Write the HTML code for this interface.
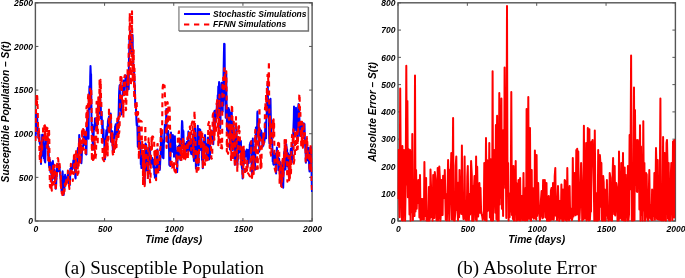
<!DOCTYPE html>
<html><head><meta charset="utf-8"><style>
html,body{margin:0;padding:0;background:#fff;width:685px;height:278px;overflow:hidden}
svg{display:block}
svg{will-change:transform;filter:blur(0.3px)}
.tk{font-family:"Liberation Sans", sans-serif;font-size:9.6px;font-weight:bold;font-style:italic;fill:#000}
.lb{font-family:"Liberation Sans", sans-serif;font-size:10.0px;font-weight:bold;font-style:italic;fill:#000}
.lg{font-family:"Liberation Sans", sans-serif;font-size:8.5px;font-weight:bold;font-style:italic;fill:#000}
.cap{font-family:"Liberation Serif", serif;font-size:18.7px;fill:#000}
</style></head><body>
<svg width="685" height="278" viewBox="0 0 685 278">
<defs><clipPath id="cl"><rect x="34.8" y="2.5" width="277.6" height="219"/></clipPath><clipPath id="cr"><rect x="397.5" y="2.5" width="278.2" height="219"/></clipPath></defs>
<rect x="35.4" y="2.8" width="276.70000000000005" height="218.2" fill="none" stroke="#555" stroke-width="1.4"/>
<line x1="35.40" y1="221.0" x2="35.40" y2="218.0" stroke="#555" stroke-width="1"/>
<line x1="35.40" y1="2.8" x2="35.40" y2="5.8" stroke="#555" stroke-width="1"/>
<text transform="translate(35.90,232) scale(0.89,1)" text-anchor="middle" class="tk">0</text>
<line x1="104.58" y1="221.0" x2="104.58" y2="218.0" stroke="#555" stroke-width="1"/>
<line x1="104.58" y1="2.8" x2="104.58" y2="5.8" stroke="#555" stroke-width="1"/>
<text transform="translate(105.08,232) scale(0.89,1)" text-anchor="middle" class="tk">500</text>
<line x1="173.75" y1="221.0" x2="173.75" y2="218.0" stroke="#555" stroke-width="1"/>
<line x1="173.75" y1="2.8" x2="173.75" y2="5.8" stroke="#555" stroke-width="1"/>
<text transform="translate(174.25,232) scale(0.89,1)" text-anchor="middle" class="tk">1000</text>
<line x1="242.93" y1="221.0" x2="242.93" y2="218.0" stroke="#555" stroke-width="1"/>
<line x1="242.93" y1="2.8" x2="242.93" y2="5.8" stroke="#555" stroke-width="1"/>
<text transform="translate(243.43,232) scale(0.89,1)" text-anchor="middle" class="tk">1500</text>
<line x1="312.10" y1="221.0" x2="312.10" y2="218.0" stroke="#555" stroke-width="1"/>
<line x1="312.10" y1="2.8" x2="312.10" y2="5.8" stroke="#555" stroke-width="1"/>
<text transform="translate(312.60,232) scale(0.89,1)" text-anchor="middle" class="tk">2000</text>
<line x1="35.4" y1="221.00" x2="38.4" y2="221.00" stroke="#555" stroke-width="1"/>
<line x1="312.1" y1="221.00" x2="309.1" y2="221.00" stroke="#555" stroke-width="1"/>
<text transform="translate(33.00,224.20) scale(0.89,1)" text-anchor="end" class="tk">0</text>
<line x1="35.4" y1="177.36" x2="38.4" y2="177.36" stroke="#555" stroke-width="1"/>
<line x1="312.1" y1="177.36" x2="309.1" y2="177.36" stroke="#555" stroke-width="1"/>
<text transform="translate(33.00,180.56) scale(0.89,1)" text-anchor="end" class="tk">500</text>
<line x1="35.4" y1="133.72" x2="38.4" y2="133.72" stroke="#555" stroke-width="1"/>
<line x1="312.1" y1="133.72" x2="309.1" y2="133.72" stroke="#555" stroke-width="1"/>
<text transform="translate(33.00,136.92) scale(0.89,1)" text-anchor="end" class="tk">1000</text>
<line x1="35.4" y1="90.08" x2="38.4" y2="90.08" stroke="#555" stroke-width="1"/>
<line x1="312.1" y1="90.08" x2="309.1" y2="90.08" stroke="#555" stroke-width="1"/>
<text transform="translate(33.00,93.28) scale(0.89,1)" text-anchor="end" class="tk">1500</text>
<line x1="35.4" y1="46.44" x2="38.4" y2="46.44" stroke="#555" stroke-width="1"/>
<line x1="312.1" y1="46.44" x2="309.1" y2="46.44" stroke="#555" stroke-width="1"/>
<text transform="translate(33.00,49.64) scale(0.89,1)" text-anchor="end" class="tk">2000</text>
<line x1="35.4" y1="2.80" x2="38.4" y2="2.80" stroke="#555" stroke-width="1"/>
<line x1="312.1" y1="2.80" x2="309.1" y2="2.80" stroke="#555" stroke-width="1"/>
<text transform="translate(33.00,6.00) scale(0.89,1)" text-anchor="end" class="tk">2500</text>
<text transform="translate(173.75,242.8) scale(1.03,1.15)" text-anchor="middle" class="lb">Time (days)</text>
<text transform="translate(9,111.90) rotate(-90) scale(1.02,1)" text-anchor="middle" class="lb">Susceptible Population – S(t)</text>
<rect x="398.0" y="2.8" width="277.4" height="218.2" fill="none" stroke="#555" stroke-width="1.4"/>
<line x1="398.00" y1="221.0" x2="398.00" y2="218.0" stroke="#555" stroke-width="1"/>
<line x1="398.00" y1="2.8" x2="398.00" y2="5.8" stroke="#555" stroke-width="1"/>
<text transform="translate(398.50,232) scale(0.89,1)" text-anchor="middle" class="tk">0</text>
<line x1="467.35" y1="221.0" x2="467.35" y2="218.0" stroke="#555" stroke-width="1"/>
<line x1="467.35" y1="2.8" x2="467.35" y2="5.8" stroke="#555" stroke-width="1"/>
<text transform="translate(467.85,232) scale(0.89,1)" text-anchor="middle" class="tk">500</text>
<line x1="536.70" y1="221.0" x2="536.70" y2="218.0" stroke="#555" stroke-width="1"/>
<line x1="536.70" y1="2.8" x2="536.70" y2="5.8" stroke="#555" stroke-width="1"/>
<text transform="translate(537.20,232) scale(0.89,1)" text-anchor="middle" class="tk">1000</text>
<line x1="606.05" y1="221.0" x2="606.05" y2="218.0" stroke="#555" stroke-width="1"/>
<line x1="606.05" y1="2.8" x2="606.05" y2="5.8" stroke="#555" stroke-width="1"/>
<text transform="translate(606.55,232) scale(0.89,1)" text-anchor="middle" class="tk">1500</text>
<line x1="675.40" y1="221.0" x2="675.40" y2="218.0" stroke="#555" stroke-width="1"/>
<line x1="675.40" y1="2.8" x2="675.40" y2="5.8" stroke="#555" stroke-width="1"/>
<text transform="translate(675.90,232) scale(0.89,1)" text-anchor="middle" class="tk">2000</text>
<line x1="398.0" y1="221.00" x2="401.0" y2="221.00" stroke="#555" stroke-width="1"/>
<line x1="675.4" y1="221.00" x2="672.4" y2="221.00" stroke="#555" stroke-width="1"/>
<text transform="translate(395.60,224.20) scale(0.89,1)" text-anchor="end" class="tk">0</text>
<line x1="398.0" y1="193.72" x2="401.0" y2="193.72" stroke="#555" stroke-width="1"/>
<line x1="675.4" y1="193.72" x2="672.4" y2="193.72" stroke="#555" stroke-width="1"/>
<text transform="translate(395.60,196.92) scale(0.89,1)" text-anchor="end" class="tk">100</text>
<line x1="398.0" y1="166.45" x2="401.0" y2="166.45" stroke="#555" stroke-width="1"/>
<line x1="675.4" y1="166.45" x2="672.4" y2="166.45" stroke="#555" stroke-width="1"/>
<text transform="translate(395.60,169.65) scale(0.89,1)" text-anchor="end" class="tk">200</text>
<line x1="398.0" y1="139.18" x2="401.0" y2="139.18" stroke="#555" stroke-width="1"/>
<line x1="675.4" y1="139.18" x2="672.4" y2="139.18" stroke="#555" stroke-width="1"/>
<text transform="translate(395.60,142.38) scale(0.89,1)" text-anchor="end" class="tk">300</text>
<line x1="398.0" y1="111.90" x2="401.0" y2="111.90" stroke="#555" stroke-width="1"/>
<line x1="675.4" y1="111.90" x2="672.4" y2="111.90" stroke="#555" stroke-width="1"/>
<text transform="translate(395.60,115.10) scale(0.89,1)" text-anchor="end" class="tk">400</text>
<line x1="398.0" y1="84.62" x2="401.0" y2="84.62" stroke="#555" stroke-width="1"/>
<line x1="675.4" y1="84.62" x2="672.4" y2="84.62" stroke="#555" stroke-width="1"/>
<text transform="translate(395.60,87.83) scale(0.89,1)" text-anchor="end" class="tk">500</text>
<line x1="398.0" y1="57.35" x2="401.0" y2="57.35" stroke="#555" stroke-width="1"/>
<line x1="675.4" y1="57.35" x2="672.4" y2="57.35" stroke="#555" stroke-width="1"/>
<text transform="translate(395.60,60.55) scale(0.89,1)" text-anchor="end" class="tk">600</text>
<line x1="398.0" y1="30.08" x2="401.0" y2="30.08" stroke="#555" stroke-width="1"/>
<line x1="675.4" y1="30.08" x2="672.4" y2="30.08" stroke="#555" stroke-width="1"/>
<text transform="translate(395.60,33.28) scale(0.89,1)" text-anchor="end" class="tk">700</text>
<line x1="398.0" y1="2.80" x2="401.0" y2="2.80" stroke="#555" stroke-width="1"/>
<line x1="675.4" y1="2.80" x2="672.4" y2="2.80" stroke="#555" stroke-width="1"/>
<text transform="translate(395.60,6.00) scale(0.89,1)" text-anchor="end" class="tk">800</text>
<text transform="translate(536.70,242.8) scale(1.03,1.15)" text-anchor="middle" class="lb">Time (days)</text>
<text transform="translate(375.5,111.90) rotate(-90) scale(1.02,1)" text-anchor="middle" class="lb">Absolute Error – S(t)</text>
<g clip-path="url(#cl)" fill="none" stroke-linejoin="round">
<path d="M35.5 137.6 L35.8 132.7 L36.1 128.3 L36.3 113.1 L36.6 122.0 L36.9 124.5 L37.2 118.4 L37.4 123.1 L37.7 127.2 L38.0 131.0 L38.3 132.6 L38.5 138.5 L38.8 133.8 L39.1 135.4 L39.4 134.5 L39.6 142.0 L39.9 143.9 L40.2 142.6 L40.5 144.4 L40.8 155.0 L41.0 164.0 L41.3 154.0 L41.6 153.0 L41.9 156.1 L42.1 134.8 L42.4 134.8 L42.7 134.8 L43.0 134.9 L43.2 136.4 L43.5 140.8 L43.8 158.3 L44.1 146.4 L44.3 143.6 L44.6 160.3 L44.9 161.5 L45.2 162.5 L45.5 154.3 L45.7 139.4 L46.0 144.3 L46.3 147.6 L46.6 139.1 L46.8 139.9 L47.1 141.6 L47.4 136.8 L47.7 141.1 L47.9 146.1 L48.2 149.3 L48.5 146.4 L48.8 155.2 L49.0 165.0 L49.3 167.4 L49.6 159.3 L49.9 168.0 L50.2 163.8 L50.4 171.9 L50.7 162.2 L51.0 171.5 L51.3 173.3 L51.5 174.4 L51.8 182.6 L52.1 175.9 L52.4 172.4 L52.6 164.6 L52.9 161.1 L53.2 167.3 L53.5 168.0 L53.7 172.7 L54.0 178.5 L54.3 169.5 L54.6 172.8 L54.9 180.1 L55.1 177.9 L55.4 180.6 L55.7 188.7 L56.0 187.5 L56.2 184.0 L56.5 176.4 L56.8 167.4 L57.1 168.0 L57.3 166.5 L57.6 171.0 L57.9 171.4 L58.2 164.2 L58.4 164.2 L58.7 167.1 L59.0 170.6 L59.3 167.6 L59.6 168.1 L59.8 170.6 L60.1 173.6 L60.4 178.1 L60.7 179.0 L60.9 178.4 L61.2 181.5 L61.5 190.0 L61.8 191.7 L62.0 184.5 L62.3 178.9 L62.6 171.3 L62.9 176.2 L63.2 179.2 L63.4 189.6 L63.7 194.9 L64.0 190.3 L64.3 189.6 L64.5 187.6 L64.8 181.6 L65.1 174.8 L65.4 183.4 L65.6 181.7 L65.9 178.2 L66.2 178.8 L66.5 177.6 L66.7 180.8 L67.0 179.9 L67.3 179.2 L67.6 175.6 L67.9 177.8 L68.1 172.9 L68.4 176.7 L68.7 183.3 L69.0 175.1 L69.2 174.1 L69.5 184.3 L69.8 185.2 L70.1 178.6 L70.3 168.7 L70.6 172.5 L70.9 168.5 L71.2 167.1 L71.4 166.7 L71.7 170.0 L72.0 168.1 L72.3 169.3 L72.6 168.0 L72.8 164.3 L73.1 163.7 L73.4 160.2 L73.7 162.0 L73.9 160.4 L74.2 159.8 L74.5 165.1 L74.8 164.8 L75.0 170.1 L75.3 177.4 L75.6 178.5 L75.9 170.8 L76.1 166.3 L76.4 166.0 L76.7 159.3 L77.0 164.3 L77.3 159.7 L77.5 153.3 L77.8 148.8 L78.1 147.8 L78.4 158.7 L78.6 149.1 L78.9 150.2 L79.2 134.9 L79.5 138.0 L79.7 147.4 L80.0 145.9 L80.3 142.1 L80.6 145.1 L80.8 150.1 L81.1 153.1 L81.4 163.2 L81.7 158.8 L82.0 150.6 L82.2 147.8 L82.5 146.2 L82.8 146.3 L83.1 145.5 L83.3 146.1 L83.6 136.7 L83.9 143.3 L84.2 139.5 L84.4 132.1 L84.7 136.9 L85.0 144.8 L85.3 145.0 L85.5 142.5 L85.8 131.7 L86.1 154.4 L86.4 154.5 L86.7 137.3 L86.9 127.7 L87.2 128.4 L87.5 112.8 L87.8 118.0 L88.0 115.1 L88.3 130.3 L88.6 138.8 L88.9 100.2 L89.1 105.3 L89.4 86.3 L89.7 108.9 L90.0 95.6 L90.2 76.9 L90.5 66.1 L90.8 73.5 L91.1 74.4 L91.4 102.3 L91.6 130.1 L91.9 125.6 L92.2 129.2 L92.5 124.7 L92.7 146.9 L93.0 149.7 L93.3 141.1 L93.6 138.3 L93.8 129.3 L94.1 129.3 L94.4 126.5 L94.7 127.7 L94.9 118.5 L95.2 118.2 L95.5 119.8 L95.8 119.5 L96.1 122.8 L96.3 121.4 L96.6 130.5 L96.9 126.1 L97.2 124.6 L97.4 117.8 L97.7 114.1 L98.0 103.1 L98.3 114.6 L98.5 108.2 L98.8 105.5 L99.1 106.9 L99.4 113.6 L99.6 107.4 L99.9 96.8 L100.2 98.6 L100.5 109.1 L100.8 104.0 L101.0 118.7 L101.3 117.4 L101.6 111.7 L101.9 120.2 L102.1 124.0 L102.4 130.3 L102.7 120.6 L103.0 141.2 L103.2 137.4 L103.5 129.3 L103.8 138.9 L104.1 139.1 L104.3 143.5 L104.6 150.2 L104.9 159.3 L105.2 157.0 L105.5 144.7 L105.7 141.4 L106.0 136.7 L106.3 130.2 L106.6 132.3 L106.8 136.3 L107.1 133.7 L107.4 126.5 L107.7 132.6 L107.9 121.3 L108.2 120.0 L108.5 118.7 L108.8 117.5 L109.0 116.6 L109.3 119.0 L109.6 130.3 L109.9 123.9 L110.2 122.2 L110.4 128.5 L110.7 113.5 L111.0 141.7 L111.3 135.5 L111.5 131.5 L111.8 139.0 L112.1 138.9 L112.4 131.3 L112.6 144.0 L112.9 151.0 L113.2 148.3 L113.5 142.0 L113.7 140.0 L114.0 134.3 L114.3 137.2 L114.6 137.9 L114.9 133.4 L115.1 126.2 L115.4 127.3 L115.7 124.2 L116.0 131.9 L116.2 131.4 L116.5 134.4 L116.8 132.1 L117.1 130.7 L117.3 122.3 L117.6 125.4 L117.9 135.0 L118.2 126.1 L118.5 115.8 L118.7 110.5 L119.0 96.0 L119.3 89.1 L119.6 85.5 L119.8 85.1 L120.1 103.5 L120.4 104.6 L120.7 105.1 L120.9 110.9 L121.2 104.5 L121.5 114.5 L121.8 105.0 L122.0 97.1 L122.3 94.9 L122.6 95.2 L122.9 86.0 L123.2 89.5 L123.4 80.5 L123.7 95.2 L124.0 95.2 L124.3 90.6 L124.5 85.1 L124.8 84.5 L125.1 84.8 L125.4 78.9 L125.6 75.3 L125.9 77.6 L126.2 76.4 L126.5 85.6 L126.7 92.9 L127.0 89.3 L127.3 89.8 L127.6 75.4 L127.9 80.4 L128.1 76.9 L128.4 77.3 L128.7 89.3 L129.0 52.9 L129.2 54.7 L129.5 36.2 L129.8 46.9 L130.1 31.3 L130.3 31.0 L130.6 37.6 L130.9 49.4 L131.2 50.4 L131.4 39.4 L131.7 35.0 L132.0 52.0 L132.3 53.0 L132.6 35.0 L132.8 51.3 L133.1 59.2 L133.4 70.8 L133.7 67.2 L133.9 79.1 L134.2 72.4 L134.5 83.6 L134.8 85.1 L135.0 95.6 L135.3 105.4 L135.6 104.6 L135.9 107.5 L136.1 111.1 L136.4 120.2 L136.7 125.3 L137.0 120.0 L137.3 125.7 L137.5 132.3 L137.8 146.8 L138.1 133.5 L138.4 131.5 L138.6 145.0 L138.9 133.3 L139.2 126.6 L139.5 136.1 L139.7 147.6 L140.0 142.1 L140.3 148.5 L140.6 149.7 L140.8 164.2 L141.1 160.6 L141.4 168.1 L141.7 154.2 L142.0 151.9 L142.2 151.3 L142.5 164.5 L142.8 168.2 L143.1 156.1 L143.3 164.0 L143.6 171.0 L143.9 165.8 L144.2 171.9 L144.4 184.3 L144.7 183.8 L145.0 165.4 L145.3 152.8 L145.5 143.5 L145.8 157.6 L146.1 144.5 L146.4 146.3 L146.7 148.1 L146.9 170.4 L147.2 153.8 L147.5 160.9 L147.8 168.9 L148.0 169.4 L148.3 176.7 L148.6 163.1 L148.9 148.4 L149.1 154.3 L149.4 148.2 L149.7 148.1 L150.0 148.0 L150.2 155.2 L150.5 163.3 L150.8 156.1 L151.1 164.0 L151.4 163.2 L151.6 160.6 L151.9 160.2 L152.2 158.0 L152.5 162.9 L152.7 164.0 L153.0 159.6 L153.3 167.4 L153.6 160.6 L153.8 162.8 L154.1 165.4 L154.4 174.8 L154.7 167.4 L154.9 177.7 L155.2 174.2 L155.5 172.0 L155.8 173.6 L156.1 177.6 L156.3 171.8 L156.6 159.3 L156.9 150.8 L157.2 150.4 L157.4 149.4 L157.7 158.7 L158.0 166.3 L158.3 168.4 L158.5 167.0 L158.8 161.9 L159.1 160.7 L159.4 163.6 L159.6 170.1 L159.9 169.2 L160.2 162.6 L160.5 156.7 L160.8 147.7 L161.0 137.2 L161.3 132.1 L161.6 130.7 L161.9 145.9 L162.1 139.8 L162.4 150.2 L162.7 157.4 L163.0 152.6 L163.2 158.0 L163.5 158.3 L163.8 144.2 L164.1 141.3 L164.3 136.1 L164.6 129.2 L164.9 124.8 L165.2 126.4 L165.5 132.4 L165.7 120.4 L166.0 123.7 L166.3 108.9 L166.6 120.0 L166.8 130.8 L167.1 133.3 L167.4 136.5 L167.7 142.1 L167.9 132.7 L168.2 130.9 L168.5 137.7 L168.8 147.8 L169.0 148.5 L169.3 165.1 L169.6 160.3 L169.9 163.8 L170.2 166.1 L170.4 158.6 L170.7 144.8 L171.0 132.5 L171.3 137.5 L171.5 149.8 L171.8 150.8 L172.1 150.9 L172.4 146.7 L172.6 151.8 L172.9 135.0 L173.2 141.4 L173.5 144.4 L173.8 136.6 L174.0 156.7 L174.3 145.6 L174.6 140.4 L174.9 136.3 L175.1 149.3 L175.4 145.2 L175.7 152.8 L176.0 157.6 L176.2 159.0 L176.5 150.8 L176.8 159.4 L177.1 172.1 L177.3 169.2 L177.6 156.8 L177.9 146.8 L178.2 152.4 L178.5 152.6 L178.7 155.3 L179.0 145.8 L179.3 150.9 L179.6 151.7 L179.8 139.1 L180.1 148.8 L180.4 160.0 L180.7 150.5 L180.9 148.1 L181.2 155.2 L181.5 140.9 L181.8 126.7 L182.0 121.0 L182.3 121.9 L182.6 128.9 L182.9 131.2 L183.2 135.0 L183.4 131.1 L183.7 142.9 L184.0 149.8 L184.3 155.5 L184.5 157.9 L184.8 152.1 L185.1 155.4 L185.4 143.7 L185.6 147.9 L185.9 145.2 L186.2 151.4 L186.5 151.3 L186.7 142.1 L187.0 143.3 L187.3 150.4 L187.6 142.4 L187.9 140.4 L188.1 137.7 L188.4 131.5 L188.7 140.0 L189.0 147.9 L189.2 150.8 L189.5 149.7 L189.8 147.2 L190.1 147.1 L190.3 141.2 L190.6 146.6 L190.9 151.3 L191.2 154.0 L191.4 146.8 L191.7 145.5 L192.0 142.9 L192.3 154.4 L192.6 152.0 L192.8 134.4 L193.1 139.0 L193.4 155.4 L193.7 157.4 L193.9 160.9 L194.2 155.5 L194.5 130.4 L194.8 125.8 L195.0 127.1 L195.3 129.4 L195.6 148.9 L195.9 168.4 L196.1 167.7 L196.4 161.6 L196.7 149.0 L197.0 142.5 L197.3 152.7 L197.5 143.8 L197.8 125.7 L198.1 145.5 L198.4 165.5 L198.6 164.9 L198.9 147.1 L199.2 129.7 L199.5 129.1 L199.7 129.3 L200.0 129.4 L200.3 129.9 L200.6 145.7 L200.8 149.9 L201.1 138.5 L201.4 136.0 L201.7 145.3 L202.0 160.0 L202.2 159.5 L202.5 158.6 L202.8 168.2 L203.1 161.9 L203.3 155.5 L203.6 143.3 L203.9 140.8 L204.2 157.2 L204.4 144.0 L204.7 144.4 L205.0 134.9 L205.3 138.5 L205.5 146.1 L205.8 143.6 L206.1 148.3 L206.4 151.4 L206.7 151.6 L206.9 160.2 L207.2 159.7 L207.5 152.0 L207.8 144.1 L208.0 137.5 L208.3 141.7 L208.6 139.2 L208.9 157.9 L209.1 159.5 L209.4 156.1 L209.7 148.9 L210.0 157.8 L210.2 138.9 L210.5 135.4 L210.8 143.0 L211.1 134.8 L211.4 132.0 L211.6 130.8 L211.9 137.3 L212.2 137.5 L212.5 139.2 L212.7 141.6 L213.0 138.9 L213.3 144.3 L213.6 135.0 L213.8 123.5 L214.1 113.2 L214.4 111.2 L214.7 110.7 L214.9 122.3 L215.2 124.9 L215.5 121.0 L215.8 114.5 L216.1 113.5 L216.3 113.5 L216.6 112.0 L216.9 103.8 L217.2 104.0 L217.4 115.9 L217.7 95.2 L218.0 97.3 L218.3 86.6 L218.5 89.7 L218.8 88.0 L219.1 82.0 L219.4 84.1 L219.6 113.7 L219.9 114.4 L220.2 128.0 L220.5 122.3 L220.8 91.1 L221.0 103.1 L221.3 99.5 L221.6 82.7 L221.9 100.8 L222.1 105.7 L222.4 96.9 L222.7 111.4 L223.0 93.9 L223.2 105.6 L223.5 74.2 L223.8 59.8 L224.1 43.8 L224.3 53.3 L224.6 43.9 L224.9 84.3 L225.2 99.9 L225.5 101.4 L225.7 117.8 L226.0 75.4 L226.3 74.1 L226.6 102.9 L226.8 115.0 L227.1 130.2 L227.4 126.8 L227.7 134.3 L227.9 129.4 L228.2 119.3 L228.5 107.9 L228.8 108.9 L229.0 109.4 L229.3 110.6 L229.6 126.4 L229.9 149.4 L230.2 146.4 L230.4 131.0 L230.7 112.5 L231.0 112.5 L231.3 112.5 L231.5 118.1 L231.8 112.5 L232.1 133.7 L232.4 149.9 L232.6 146.7 L232.9 135.4 L233.2 135.8 L233.5 123.1 L233.8 130.2 L234.0 132.9 L234.3 140.6 L234.6 150.4 L234.9 164.8 L235.1 153.9 L235.4 161.1 L235.7 147.2 L236.0 136.2 L236.2 131.4 L236.5 126.5 L236.8 146.2 L237.1 158.4 L237.3 164.9 L237.6 161.0 L237.9 159.2 L238.2 149.8 L238.5 138.9 L238.7 147.6 L239.0 151.9 L239.3 143.5 L239.6 152.4 L239.8 140.8 L240.1 145.0 L240.4 144.2 L240.7 144.5 L240.9 141.0 L241.2 153.1 L241.5 158.9 L241.8 167.2 L242.0 168.4 L242.3 169.2 L242.6 178.5 L242.9 166.5 L243.2 159.9 L243.4 164.0 L243.7 164.6 L244.0 159.8 L244.3 157.5 L244.5 159.0 L244.8 151.2 L245.1 154.2 L245.4 156.4 L245.6 154.0 L245.9 153.0 L246.2 155.1 L246.5 151.8 L246.7 149.6 L247.0 155.8 L247.3 157.6 L247.6 166.3 L247.9 159.2 L248.1 150.0 L248.4 157.6 L248.7 163.2 L249.0 158.2 L249.2 150.4 L249.5 152.6 L249.8 144.2 L250.1 146.4 L250.3 142.5 L250.6 142.1 L250.9 141.7 L251.2 141.2 L251.4 159.2 L251.7 167.6 L252.0 176.8 L252.3 167.7 L252.6 153.9 L252.8 138.5 L253.1 150.3 L253.4 150.1 L253.7 162.7 L253.9 149.4 L254.2 147.2 L254.5 147.7 L254.8 158.7 L255.0 169.7 L255.3 156.6 L255.6 142.8 L255.9 127.4 L256.1 142.9 L256.4 141.2 L256.7 134.5 L257.0 134.9 L257.3 113.2 L257.5 111.5 L257.8 124.6 L258.1 128.0 L258.4 131.2 L258.6 121.0 L258.9 130.3 L259.2 151.7 L259.5 131.1 L259.7 133.0 L260.0 129.6 L260.3 136.4 L260.6 137.7 L260.8 137.3 L261.1 130.5 L261.4 134.6 L261.7 132.5 L262.0 135.7 L262.2 138.9 L262.5 146.8 L262.8 140.4 L263.1 137.3 L263.3 145.8 L263.6 141.1 L263.9 136.8 L264.2 142.9 L264.4 141.8 L264.7 139.0 L265.0 137.7 L265.3 122.5 L265.5 126.6 L265.8 138.0 L266.1 138.3 L266.4 114.2 L266.7 116.5 L266.9 102.3 L267.2 98.0 L267.5 98.6 L267.8 82.9 L268.0 102.5 L268.3 99.5 L268.6 110.3 L268.9 117.1 L269.1 133.8 L269.4 143.4 L269.7 114.7 L270.0 116.8 L270.2 100.3 L270.5 98.7 L270.8 115.6 L271.1 129.7 L271.4 143.7 L271.6 136.7 L271.9 139.6 L272.2 139.7 L272.5 150.8 L272.7 161.4 L273.0 151.8 L273.3 163.9 L273.6 164.7 L273.8 158.7 L274.1 159.7 L274.4 161.9 L274.7 162.2 L274.9 153.8 L275.2 164.0 L275.5 161.1 L275.8 170.1 L276.1 173.4 L276.3 160.9 L276.6 153.1 L276.9 147.5 L277.2 152.6 L277.4 155.1 L277.7 158.5 L278.0 153.5 L278.3 159.1 L278.5 170.3 L278.8 158.7 L279.1 158.9 L279.4 162.3 L279.6 162.2 L279.9 161.8 L280.2 175.2 L280.5 181.4 L280.8 182.8 L281.0 171.7 L281.3 186.2 L281.6 183.1 L281.9 173.0 L282.1 167.6 L282.4 162.4 L282.7 181.8 L283.0 183.4 L283.2 187.8 L283.5 177.1 L283.8 169.4 L284.1 153.1 L284.4 151.6 L284.6 156.3 L284.9 150.9 L285.2 160.7 L285.5 169.4 L285.7 152.9 L286.0 154.1 L286.3 144.2 L286.6 148.5 L286.8 158.8 L287.1 149.2 L287.4 166.1 L287.7 162.2 L287.9 152.9 L288.2 154.4 L288.5 167.5 L288.8 171.2 L289.1 178.6 L289.3 163.5 L289.6 160.8 L289.9 158.6 L290.2 154.6 L290.4 161.4 L290.7 150.4 L291.0 148.5 L291.3 160.9 L291.5 156.7 L291.8 162.4 L292.1 158.5 L292.4 148.1 L292.6 143.1 L292.9 141.5 L293.2 135.1 L293.5 125.5 L293.8 118.2 L294.0 106.5 L294.3 114.3 L294.6 122.1 L294.9 130.5 L295.1 110.8 L295.4 122.3 L295.7 121.8 L296.0 107.7 L296.2 112.4 L296.5 122.6 L296.8 127.0 L297.1 132.0 L297.3 137.8 L297.6 141.3 L297.9 134.1 L298.2 107.1 L298.5 104.0 L298.7 109.8 L299.0 106.7 L299.3 115.7 L299.6 123.0 L299.8 122.1 L300.1 136.0 L300.4 125.2 L300.7 132.6 L300.9 129.3 L301.2 125.0 L301.5 130.7 L301.8 127.3 L302.0 134.9 L302.3 126.8 L302.6 129.4 L302.9 125.6 L303.2 127.3 L303.4 127.8 L303.7 123.3 L304.0 132.4 L304.3 126.2 L304.5 124.0 L304.8 136.2 L305.1 145.2 L305.4 149.8 L305.6 151.3 L305.9 162.7 L306.2 152.5 L306.5 147.5 L306.7 143.0 L307.0 150.0 L307.3 151.8 L307.6 157.3 L307.9 160.5 L308.1 156.9 L308.4 151.8 L308.7 147.8 L309.0 161.6 L309.2 167.9 L309.5 171.4 L309.8 168.7 L310.1 167.9 L310.3 166.6 L310.6 164.9 L310.9 147.0 L311.2 153.5 L311.4 163.1 L311.7 180.2 L312.0 192.0" stroke="#0000ff" stroke-width="2"/>
<path d="M35.5 141.0 L35.8 123.7 L36.1 105.5 L36.3 96.0 L36.6 96.0 L36.9 105.3 L37.2 96.0 L37.4 99.9 L37.7 109.4 L38.0 123.3 L38.3 139.1 L38.5 135.5 L38.8 128.6 L39.1 133.9 L39.4 148.3 L39.6 155.0 L39.9 160.7 L40.2 151.3 L40.5 145.5 L40.8 161.7 L41.0 162.1 L41.3 148.3 L41.6 139.8 L41.9 151.2 L42.1 149.7 L42.4 141.9 L42.7 137.0 L43.0 135.4 L43.2 124.7 L43.5 124.7 L43.8 124.7 L44.1 124.7 L44.3 126.3 L44.6 140.5 L44.9 125.4 L45.2 140.0 L45.5 127.8 L45.7 124.8 L46.0 125.6 L46.3 126.5 L46.6 127.3 L46.8 147.5 L47.1 128.0 L47.4 128.0 L47.7 143.4 L47.9 150.2 L48.2 160.4 L48.5 131.6 L48.8 137.3 L49.0 128.7 L49.3 137.6 L49.6 167.5 L49.9 186.4 L50.2 187.1 L50.4 187.7 L50.7 181.6 L51.0 171.0 L51.3 187.6 L51.5 187.3 L51.8 190.7 L52.1 176.7 L52.4 169.0 L52.6 175.1 L52.9 165.9 L53.2 163.9 L53.5 184.5 L53.7 184.0 L54.0 179.6 L54.3 168.2 L54.6 164.8 L54.9 165.7 L55.1 181.9 L55.4 179.6 L55.7 191.0 L56.0 184.2 L56.2 177.4 L56.5 180.3 L56.8 175.3 L57.1 164.7 L57.3 161.4 L57.6 158.4 L57.9 158.1 L58.2 159.0 L58.4 161.6 L58.7 161.1 L59.0 169.1 L59.3 165.1 L59.6 163.8 L59.8 166.1 L60.1 173.7 L60.4 172.3 L60.7 187.0 L60.9 176.1 L61.2 190.3 L61.5 189.3 L61.8 193.5 L62.0 189.3 L62.3 195.0 L62.6 195.0 L62.9 193.1 L63.2 195.0 L63.4 193.5 L63.7 193.6 L64.0 190.3 L64.3 186.8 L64.5 191.2 L64.8 183.6 L65.1 185.2 L65.4 188.1 L65.6 187.3 L65.9 184.5 L66.2 177.8 L66.5 183.8 L66.7 182.9 L67.0 184.8 L67.3 180.1 L67.6 179.2 L67.9 170.6 L68.1 172.9 L68.4 179.8 L68.7 179.4 L69.0 185.7 L69.2 187.0 L69.5 189.0 L69.8 187.9 L70.1 175.0 L70.3 173.4 L70.6 171.7 L70.9 163.8 L71.2 171.3 L71.4 173.1 L71.7 175.6 L72.0 171.2 L72.3 171.7 L72.6 172.4 L72.8 181.0 L73.1 174.6 L73.4 172.4 L73.7 173.9 L73.9 156.5 L74.2 152.7 L74.5 170.7 L74.8 152.1 L75.0 163.9 L75.3 169.4 L75.6 172.3 L75.9 161.5 L76.1 151.4 L76.4 151.4 L76.7 149.8 L77.0 154.4 L77.3 158.2 L77.5 174.9 L77.8 166.1 L78.1 173.5 L78.4 172.9 L78.6 168.2 L78.9 143.4 L79.2 163.2 L79.5 141.1 L79.7 137.2 L80.0 151.6 L80.3 164.0 L80.6 148.4 L80.8 147.4 L81.1 143.8 L81.4 153.7 L81.7 144.6 L82.0 129.5 L82.2 138.0 L82.5 128.5 L82.8 130.4 L83.1 129.1 L83.3 149.7 L83.6 149.5 L83.9 141.0 L84.2 136.1 L84.4 130.3 L84.7 133.7 L85.0 131.8 L85.3 140.2 L85.5 156.1 L85.8 155.7 L86.1 133.9 L86.4 107.9 L86.7 106.1 L86.9 125.9 L87.2 120.6 L87.5 110.5 L87.8 117.2 L88.0 97.6 L88.3 94.5 L88.6 99.3 L88.9 105.4 L89.1 103.2 L89.4 106.4 L89.7 97.8 L90.0 93.2 L90.2 88.7 L90.5 98.3 L90.8 104.0 L91.1 88.1 L91.4 94.5 L91.6 115.0 L91.9 160.9 L92.2 130.2 L92.5 144.0 L92.7 150.9 L93.0 162.3 L93.3 158.1 L93.6 161.7 L93.8 161.2 L94.1 149.8 L94.4 136.8 L94.7 142.5 L94.9 145.9 L95.2 158.9 L95.5 158.5 L95.8 155.8 L96.1 154.0 L96.3 123.3 L96.6 101.7 L96.9 117.5 L97.2 129.9 L97.4 109.2 L97.7 145.0 L98.0 119.8 L98.3 97.4 L98.5 117.8 L98.8 122.4 L99.1 107.6 L99.4 91.0 L99.6 79.5 L99.9 94.6 L100.2 106.5 L100.5 79.9 L100.8 86.7 L101.0 97.9 L101.3 100.1 L101.6 119.4 L101.9 145.1 L102.1 136.5 L102.4 141.3 L102.7 158.8 L103.0 159.2 L103.2 159.7 L103.5 160.2 L103.8 160.6 L104.1 161.1 L104.3 153.4 L104.6 147.4 L104.9 157.8 L105.2 157.0 L105.5 149.2 L105.7 153.3 L106.0 140.6 L106.3 154.1 L106.6 149.2 L106.8 144.4 L107.1 141.1 L107.4 137.1 L107.7 155.5 L107.9 135.6 L108.2 136.2 L108.5 139.6 L108.8 121.0 L109.0 107.5 L109.3 127.6 L109.6 134.4 L109.9 118.5 L110.2 131.0 L110.4 112.9 L110.7 113.5 L111.0 115.5 L111.3 131.4 L111.5 141.8 L111.8 135.3 L112.1 138.5 L112.4 131.6 L112.6 152.1 L112.9 154.5 L113.2 154.3 L113.5 139.9 L113.7 142.0 L114.0 153.0 L114.3 152.6 L114.6 152.2 L114.9 151.8 L115.1 144.6 L115.4 147.5 L115.7 147.3 L116.0 145.3 L116.2 136.9 L116.5 147.2 L116.8 130.8 L117.1 127.8 L117.3 118.5 L117.6 130.8 L117.9 139.8 L118.2 138.3 L118.5 136.8 L118.7 116.8 L119.0 133.6 L119.3 132.0 L119.6 127.6 L119.8 116.3 L120.1 90.1 L120.4 77.0 L120.7 80.6 L120.9 90.4 L121.2 74.6 L121.5 76.2 L121.8 89.1 L122.0 99.4 L122.3 97.1 L122.6 103.6 L122.9 115.5 L123.2 104.0 L123.4 117.7 L123.7 89.0 L124.0 79.0 L124.3 77.8 L124.5 76.6 L124.8 75.3 L125.1 76.2 L125.4 95.8 L125.6 95.0 L125.9 110.3 L126.2 109.2 L126.5 95.7 L126.7 94.9 L127.0 88.8 L127.3 96.0 L127.6 68.9 L127.9 85.2 L128.1 73.6 L128.4 85.0 L128.7 47.8 L129.0 39.2 L129.2 36.1 L129.5 29.3 L129.8 13.0 L130.1 45.7 L130.3 75.4 L130.6 58.1 L130.9 85.4 L131.2 77.1 L131.4 72.5 L131.7 42.0 L132.0 11.2 L132.3 43.7 L132.6 61.3 L132.8 81.9 L133.1 81.2 L133.4 57.8 L133.7 50.3 L133.9 71.8 L134.2 98.5 L134.5 68.5 L134.8 87.8 L135.0 91.1 L135.3 104.6 L135.6 114.4 L135.9 115.0 L136.1 107.9 L136.4 101.1 L136.7 103.6 L137.0 112.2 L137.3 115.4 L137.5 114.3 L137.8 116.5 L138.1 112.0 L138.4 118.6 L138.6 143.6 L138.9 159.3 L139.2 132.0 L139.5 155.9 L139.7 141.7 L140.0 120.5 L140.3 120.7 L140.6 120.8 L140.8 121.0 L141.1 121.1 L141.4 121.3 L141.7 121.5 L142.0 154.2 L142.2 140.5 L142.5 153.5 L142.8 155.5 L143.1 185.5 L143.3 154.9 L143.6 178.7 L143.9 144.8 L144.2 154.4 L144.4 176.1 L144.7 186.1 L145.0 164.9 L145.3 125.1 L145.5 139.9 L145.8 143.3 L146.1 148.3 L146.4 152.6 L146.7 158.0 L146.9 157.4 L147.2 163.1 L147.5 168.5 L147.8 179.3 L148.0 166.9 L148.3 153.1 L148.6 138.2 L148.9 140.0 L149.1 140.3 L149.4 153.4 L149.7 170.9 L150.0 182.5 L150.2 182.2 L150.5 181.8 L150.8 161.7 L151.1 145.2 L151.4 144.8 L151.6 136.5 L151.9 149.3 L152.2 136.5 L152.5 140.6 L152.7 136.5 L153.0 136.5 L153.3 137.4 L153.6 138.3 L153.8 139.2 L154.1 140.1 L154.4 153.6 L154.7 164.4 L154.9 155.9 L155.2 150.7 L155.5 154.0 L155.8 172.4 L156.1 180.3 L156.3 172.3 L156.6 148.4 L156.9 150.9 L157.2 161.5 L157.4 144.0 L157.7 144.1 L158.0 169.0 L158.3 173.5 L158.5 173.4 L158.8 172.2 L159.1 171.7 L159.4 162.4 L159.6 153.7 L159.9 157.7 L160.2 148.3 L160.5 147.6 L160.8 127.4 L161.0 132.1 L161.3 141.3 L161.6 136.8 L161.9 135.7 L162.1 135.9 L162.4 99.4 L162.7 87.1 L163.0 84.8 L163.2 84.9 L163.5 85.1 L163.8 88.1 L164.1 85.4 L164.3 85.5 L164.6 85.7 L164.9 95.5 L165.2 102.2 L165.5 105.1 L165.7 113.5 L166.0 117.4 L166.3 138.0 L166.6 147.9 L166.8 131.6 L167.1 115.8 L167.4 102.0 L167.7 102.7 L167.9 127.9 L168.2 112.5 L168.5 104.7 L168.8 105.4 L169.0 106.1 L169.3 106.8 L169.6 107.5 L169.9 120.9 L170.2 133.5 L170.4 158.3 L170.7 166.7 L171.0 167.0 L171.3 167.2 L171.5 167.5 L171.8 161.0 L172.1 160.1 L172.4 168.2 L172.6 168.5 L172.9 168.7 L173.2 169.0 L173.5 169.4 L173.8 169.8 L174.0 163.1 L174.3 169.6 L174.6 170.9 L174.9 168.4 L175.1 171.7 L175.4 172.1 L175.7 172.5 L176.0 172.4 L176.2 164.0 L176.5 155.3 L176.8 162.6 L177.1 166.7 L177.3 165.2 L177.6 152.1 L177.9 136.2 L178.2 134.9 L178.5 134.6 L178.7 132.5 L179.0 131.3 L179.3 148.0 L179.6 158.5 L179.8 145.8 L180.1 150.9 L180.4 141.1 L180.7 159.6 L180.9 147.5 L181.2 146.5 L181.5 160.0 L181.8 144.9 L182.0 159.9 L182.3 143.2 L182.6 144.9 L182.9 138.8 L183.2 137.2 L183.4 139.6 L183.7 145.0 L184.0 158.7 L184.3 146.7 L184.5 145.9 L184.8 159.5 L185.1 159.4 L185.4 146.3 L185.6 159.1 L185.9 158.9 L186.2 154.6 L186.5 158.6 L186.7 158.6 L187.0 157.0 L187.3 138.9 L187.6 137.3 L187.9 158.6 L188.1 158.6 L188.4 144.9 L188.7 142.0 L189.0 132.6 L189.2 131.5 L189.5 135.6 L189.8 126.9 L190.1 126.4 L190.3 143.9 L190.6 141.1 L190.9 137.0 L191.2 150.1 L191.4 133.3 L191.7 123.5 L192.0 123.0 L192.3 121.6 L192.6 127.4 L192.8 129.3 L193.1 140.1 L193.4 152.8 L193.7 157.4 L193.9 133.8 L194.2 120.8 L194.5 110.9 L194.8 120.0 L195.0 128.1 L195.3 129.7 L195.6 147.0 L195.9 160.4 L196.1 159.8 L196.4 165.5 L196.7 174.2 L197.0 154.2 L197.3 151.9 L197.5 162.5 L197.8 153.7 L198.1 167.4 L198.4 169.7 L198.6 168.8 L198.9 157.5 L199.2 141.5 L199.5 129.1 L199.7 129.3 L200.0 134.8 L200.3 146.2 L200.6 134.1 L200.8 143.7 L201.1 148.6 L201.4 130.3 L201.7 130.5 L202.0 130.7 L202.2 130.8 L202.5 142.2 L202.8 168.5 L203.1 156.4 L203.3 145.3 L203.6 145.7 L203.9 154.2 L204.2 137.8 L204.4 155.4 L204.7 164.4 L205.0 164.8 L205.3 153.2 L205.5 161.6 L205.8 163.4 L206.1 144.7 L206.4 162.4 L206.7 157.6 L206.9 157.2 L207.2 146.1 L207.5 149.2 L207.8 160.1 L208.0 145.0 L208.3 123.9 L208.6 123.5 L208.9 122.1 L209.1 121.7 L209.4 121.2 L209.7 123.5 L210.0 144.2 L210.2 129.6 L210.5 136.7 L210.8 130.4 L211.1 150.5 L211.4 158.8 L211.6 158.7 L211.9 158.2 L212.2 157.1 L212.5 131.8 L212.7 115.7 L213.0 114.0 L213.3 113.4 L213.6 112.9 L213.8 126.8 L214.1 136.1 L214.4 139.8 L214.7 131.3 L214.9 121.5 L215.2 123.5 L215.5 126.1 L215.8 129.3 L216.1 133.0 L216.3 128.8 L216.6 103.6 L216.9 102.5 L217.2 100.1 L217.4 120.6 L217.7 111.8 L218.0 123.8 L218.3 145.3 L218.5 145.1 L218.8 128.2 L219.1 117.8 L219.4 94.7 L219.6 106.2 L219.9 132.6 L220.2 139.3 L220.5 147.5 L220.8 147.8 L221.0 148.0 L221.3 148.1 L221.6 142.7 L221.9 148.3 L222.1 148.5 L222.4 86.2 L222.7 83.1 L223.0 80.6 L223.2 77.9 L223.5 88.5 L223.8 96.4 L224.1 81.1 L224.3 68.2 L224.6 68.6 L224.9 72.2 L225.2 75.8 L225.5 79.5 L225.7 83.4 L226.0 87.3 L226.3 71.4 L226.6 96.3 L226.8 151.3 L227.1 138.6 L227.4 152.1 L227.7 152.5 L227.9 152.9 L228.2 153.8 L228.5 132.7 L228.8 124.3 L229.0 117.6 L229.3 118.0 L229.6 136.9 L229.9 143.0 L230.2 141.1 L230.4 127.5 L230.7 143.6 L231.0 160.0 L231.3 160.0 L231.5 128.4 L231.8 106.0 L232.1 104.5 L232.4 117.5 L232.6 130.2 L232.9 160.0 L233.2 156.0 L233.5 122.8 L233.8 121.7 L234.0 138.9 L234.3 135.9 L234.6 158.4 L234.9 166.9 L235.1 154.1 L235.4 141.0 L235.7 139.3 L236.0 117.0 L236.2 131.8 L236.5 131.5 L236.8 149.4 L237.1 156.7 L237.3 171.9 L237.6 158.5 L237.9 145.0 L238.2 134.9 L238.5 127.4 L238.7 130.5 L239.0 126.1 L239.3 133.3 L239.6 131.1 L239.8 134.0 L240.1 146.5 L240.4 158.9 L240.7 164.5 L240.9 153.2 L241.2 159.9 L241.5 158.1 L241.8 157.2 L242.0 147.3 L242.3 166.7 L242.6 176.4 L242.9 175.7 L243.2 177.5 L243.4 159.8 L243.7 145.6 L244.0 162.0 L244.3 152.5 L244.5 161.2 L244.8 157.5 L245.1 173.6 L245.4 172.2 L245.6 172.5 L245.9 172.0 L246.2 171.4 L246.5 165.1 L246.7 170.9 L247.0 170.7 L247.3 159.7 L247.6 170.3 L247.9 172.8 L248.1 173.3 L248.4 173.7 L248.7 174.2 L249.0 174.7 L249.2 175.2 L249.5 175.7 L249.8 176.1 L250.1 176.3 L250.3 174.8 L250.6 164.9 L250.9 150.8 L251.2 141.3 L251.4 153.3 L251.7 164.0 L252.0 180.0 L252.3 171.6 L252.6 168.2 L252.8 156.4 L253.1 157.1 L253.4 156.2 L253.7 174.1 L253.9 156.6 L254.2 149.8 L254.5 146.8 L254.8 145.7 L255.0 135.6 L255.3 129.8 L255.6 150.5 L255.9 139.4 L256.1 155.8 L256.4 168.9 L256.7 168.9 L257.0 150.3 L257.3 162.2 L257.5 165.5 L257.8 168.7 L258.1 129.8 L258.4 147.9 L258.6 123.4 L258.9 139.3 L259.2 122.0 L259.5 107.4 L259.7 135.1 L260.0 137.1 L260.3 162.6 L260.6 168.3 L260.8 157.5 L261.1 168.2 L261.4 168.2 L261.7 148.8 L262.0 143.9 L262.2 139.9 L262.5 142.3 L262.8 145.6 L263.1 135.0 L263.3 134.0 L263.6 144.5 L263.9 141.7 L264.2 136.2 L264.4 131.3 L264.7 130.5 L265.0 107.5 L265.3 111.0 L265.5 101.4 L265.8 106.2 L266.1 94.2 L266.4 111.0 L266.7 117.7 L266.9 86.4 L267.2 96.5 L267.5 74.8 L267.8 76.2 L268.0 74.0 L268.3 81.5 L268.6 81.5 L268.9 61.4 L269.1 90.7 L269.4 124.1 L269.7 148.0 L270.0 115.5 L270.2 137.0 L270.5 152.6 L270.8 154.0 L271.1 155.4 L271.4 156.7 L271.6 133.5 L271.9 139.1 L272.2 121.2 L272.5 128.7 L272.7 127.4 L273.0 120.3 L273.3 137.6 L273.6 119.4 L273.8 128.7 L274.1 123.6 L274.4 153.1 L274.7 168.4 L274.9 169.4 L275.2 170.4 L275.5 171.4 L275.8 172.4 L276.1 173.4 L276.3 159.3 L276.6 161.4 L276.9 154.7 L277.2 151.4 L277.4 164.1 L277.7 162.4 L278.0 143.0 L278.3 146.9 L278.5 142.7 L278.8 146.1 L279.1 142.7 L279.4 162.6 L279.6 183.9 L279.9 168.3 L280.2 176.5 L280.5 181.8 L280.8 163.3 L281.0 165.9 L281.3 186.1 L281.6 186.6 L281.9 187.0 L282.1 179.8 L282.4 161.1 L282.7 156.8 L283.0 160.9 L283.2 176.5 L283.5 172.2 L283.8 164.5 L284.1 151.9 L284.4 162.7 L284.6 140.0 L284.9 158.8 L285.2 152.8 L285.5 140.0 L285.7 151.9 L286.0 140.0 L286.3 149.4 L286.6 148.0 L286.8 160.3 L287.1 171.6 L287.4 181.7 L287.7 172.9 L287.9 166.1 L288.2 165.1 L288.5 155.8 L288.8 175.1 L289.1 181.2 L289.3 163.8 L289.6 166.5 L289.9 178.4 L290.2 156.3 L290.4 163.1 L290.7 174.1 L291.0 172.7 L291.3 159.2 L291.5 141.3 L291.8 140.8 L292.1 134.9 L292.4 136.3 L292.6 135.4 L292.9 144.1 L293.2 132.2 L293.5 129.4 L293.8 163.7 L294.0 162.0 L294.3 160.3 L294.6 158.6 L294.9 155.3 L295.1 130.3 L295.4 137.8 L295.7 132.5 L296.0 143.2 L296.2 149.9 L296.5 149.7 L296.8 149.6 L297.1 133.0 L297.3 131.6 L297.6 149.2 L297.9 145.3 L298.2 125.4 L298.5 127.0 L298.7 120.6 L299.0 107.5 L299.3 95.1 L299.6 93.8 L299.8 107.4 L300.1 114.3 L300.4 112.8 L300.7 133.6 L300.9 130.1 L301.2 145.5 L301.5 143.9 L301.8 140.9 L302.0 121.8 L302.3 140.3 L302.6 145.5 L302.9 147.8 L303.2 143.4 L303.4 136.9 L303.7 122.3 L304.0 139.2 L304.3 143.0 L304.5 138.4 L304.8 133.1 L305.1 138.7 L305.4 140.7 L305.6 160.8 L305.9 162.7 L306.2 154.7 L306.5 142.6 L306.7 142.9 L307.0 137.0 L307.3 142.4 L307.6 149.2 L307.9 156.0 L308.1 158.9 L308.4 155.7 L308.7 160.4 L309.0 152.4 L309.2 154.7 L309.5 167.0 L309.8 171.6 L310.1 155.1 L310.3 144.3 L310.6 145.1 L310.9 167.3 L311.2 146.7 L311.4 159.0 L311.7 184.2 L312.0 192.0" stroke="#ff0000" stroke-width="2.1" stroke-dasharray="5 4"/>
</g>
<g clip-path="url(#cr)" fill="none" stroke-linejoin="round">
<path d="M398.0 199.0 L398.6 150.0 L399.1 195.1 L399.6 217.2 L400.2 88.4 L400.8 175.0 L401.2 185.7 L401.9 220.4 L402.4 146.0 L402.9 220.9 L403.5 199.5 L404.0 150.0 L404.6 180.9 L405.1 221.0 L405.7 184.2 L406.3 65.8 L406.9 184.5 L407.4 101.0 L407.9 197.3 L408.5 149.0 L409.0 185.1 L409.5 214.5 L410.1 150.0 L410.6 221.0 L411.1 152.0 L411.8 212.3 L412.3 134.0 L412.9 220.2 L413.4 179.9 L414.0 213.6 L414.5 216.1 L415.0 75.4 L415.5 211.4 L416.1 170.0 L416.7 208.8 L417.2 193.0 L417.8 203.0 L418.3 180.0 L419.0 192.6 L419.4 217.4 L420.0 175.0 L420.6 220.2 L421.1 212.8 L421.7 199.0 L422.2 219.4 L422.8 212.5 L423.2 198.8 L423.9 219.7 L424.4 162.0 L425.0 216.1 L425.5 213.7 L426.1 178.0 L426.5 220.8 L427.1 221.0 L427.7 218.5 L428.2 220.9 L428.9 187.0 L429.3 221.0 L430.0 217.9 L430.5 169.5 L431.0 185.5 L431.6 217.1 L432.1 197.6 L432.6 220.9 L433.2 175.0 L433.7 186.4 L434.3 217.9 L434.8 172.0 L435.5 178.9 L435.9 193.4 L436.5 220.4 L437.0 220.6 L437.7 168.0 L438.2 220.4 L438.6 215.7 L439.3 166.5 L439.9 178.8 L440.4 221.0 L440.9 213.1 L441.4 180.0 L441.9 188.9 L442.6 215.1 L443.1 175.8 L443.6 198.3 L444.3 194.2 L444.8 170.0 L445.3 198.4 L445.8 219.9 L446.4 194.6 L446.9 220.7 L447.4 199.3 L448.1 160.0 L448.6 182.8 L449.2 220.8 L449.7 203.4 L450.3 169.4 L450.7 177.3 L451.3 153.0 L451.8 219.5 L452.4 211.6 L453.1 118.0 L453.6 220.4 L454.1 201.2 L454.7 221.0 L455.3 211.4 L455.7 165.7 L456.3 156.5 L456.9 210.1 L457.4 205.6 L458.0 220.6 L458.5 182.5 L459.1 217.3 L459.5 170.0 L460.2 212.6 L460.6 190.4 L461.3 213.9 L461.9 145.4 L462.3 211.7 L462.9 212.7 L463.5 219.2 L463.9 218.1 L464.6 156.5 L465.1 218.5 L465.7 219.5 L466.2 220.6 L466.7 220.7 L467.3 176.5 L467.8 166.0 L468.3 213.0 L468.9 220.5 L469.6 193.8 L470.1 214.4 L470.6 191.6 L471.1 161.0 L471.8 174.7 L472.2 221.0 L472.9 186.2 L473.4 220.9 L473.9 190.3 L474.5 176.0 L475.0 190.1 L475.6 219.6 L476.1 156.5 L476.7 220.7 L477.2 166.8 L477.8 209.6 L478.2 216.5 L478.8 193.4 L479.4 183.0 L480.0 212.7 L480.5 187.9 L481.1 211.0 L481.6 213.8 L482.2 216.3 L482.7 219.9 L483.3 216.9 L483.8 213.2 L484.3 163.0 L484.9 220.1 L485.4 220.2 L486.0 138.0 L486.6 221.0 L487.2 160.2 L487.6 211.0 L488.2 189.5 L488.7 210.2 L489.3 143.0 L489.9 217.6 L490.4 159.0 L491.0 220.6 L491.5 170.6 L492.1 221.0 L492.6 71.3 L493.1 220.5 L493.6 166.4 L494.2 150.0 L494.8 192.1 L495.4 212.8 L495.9 125.0 L496.4 219.2 L497.1 115.8 L497.6 221.0 L498.2 150.0 L498.7 220.8 L499.3 93.0 L499.7 204.5 L500.2 120.0 L500.8 197.8 L501.4 98.6 L501.9 208.7 L502.4 150.0 L503.1 215.9 L503.5 130.0 L504.2 176.4 L504.6 67.4 L505.3 187.9 L505.7 150.0 L506.3 218.0 L507.0 5.9 L507.5 195.4 L508.1 163.0 L508.6 220.8 L509.1 201.2 L509.6 217.1 L510.2 193.3 L510.7 211.5 L511.3 92.0 L511.9 214.9 L512.5 186.1 L512.9 219.1 L513.5 166.0 L514.0 220.9 L514.5 198.0 L515.2 187.4 L515.7 161.0 L516.2 220.9 L516.9 183.4 L517.4 220.4 L517.8 219.6 L518.5 180.0 L519.1 218.0 L519.5 220.6 L520.1 178.0 L520.7 220.7 L521.2 215.4 L521.7 196.0 L522.3 209.6 L522.9 220.3 L523.5 173.0 L524.0 219.9 L524.5 204.0 L525.1 220.7 L525.7 187.7 L526.2 220.3 L526.6 109.0 L527.2 220.5 L527.8 167.5 L528.3 97.0 L528.9 218.8 L529.5 217.6 L530.0 128.0 L530.5 219.3 L531.1 220.9 L531.7 170.0 L532.1 217.4 L532.7 213.7 L533.2 188.3 L533.9 218.8 L534.5 216.5 L534.9 150.6 L535.5 210.7 L536.1 219.4 L536.6 155.0 L537.1 216.0 L537.7 206.6 L538.2 183.0 L538.7 204.6 L539.4 215.7 L539.9 220.8 L540.4 216.7 L540.9 200.6 L541.6 191.0 L542.0 212.2 L542.6 218.2 L543.1 180.0 L543.7 217.2 L544.4 184.9 L544.8 180.0 L545.4 195.9 L546.0 217.7 L546.5 183.0 L547.0 220.9 L547.6 206.4 L548.2 220.9 L548.7 196.0 L549.3 221.0 L549.7 211.8 L550.4 220.5 L550.9 190.6 L551.5 188.0 L552.0 219.4 L552.5 218.4 L553.0 183.0 L553.7 219.8 L554.2 212.2 L554.7 176.4 L555.3 168.0 L555.9 215.8 L556.4 199.3 L557.0 220.3 L557.4 204.4 L558.0 186.0 L558.6 206.1 L559.2 221.0 L559.7 201.0 L560.3 218.6 L560.9 218.8 L561.4 184.6 L561.9 211.9 L562.4 221.0 L563.0 189.6 L563.5 220.9 L564.1 215.8 L564.7 180.0 L565.2 180.9 L565.7 219.9 L566.3 210.0 L566.8 220.9 L567.3 168.0 L568.0 219.1 L568.5 192.3 L569.0 220.6 L569.6 186.0 L570.2 218.2 L570.7 208.4 L571.3 218.4 L571.9 220.2 L572.3 218.8 L572.8 158.0 L573.5 216.4 L574.1 183.7 L574.5 173.0 L575.1 214.6 L575.7 215.3 L576.3 150.0 L576.7 214.0 L577.2 148.7 L577.9 214.4 L578.3 151.5 L578.9 221.0 L579.5 218.7 L580.0 207.7 L580.6 181.3 L581.1 163.0 L581.8 190.4 L582.2 220.7 L582.8 204.4 L583.3 219.6 L583.9 125.8 L584.4 218.5 L585.0 186.1 L585.5 218.4 L586.1 143.0 L586.6 220.7 L587.1 219.2 L587.8 128.0 L588.4 213.8 L588.9 220.6 L589.4 129.3 L589.9 220.0 L590.5 208.7 L591.0 211.4 L591.5 141.7 L592.2 146.2 L592.6 140.0 L593.2 160.0 L593.9 192.0 L594.3 221.0 L594.8 130.6 L595.5 219.5 L596.0 221.0 L596.6 220.9 L597.1 193.0 L597.7 221.0 L598.2 150.0 L598.8 207.6 L599.3 219.7 L599.9 155.0 L600.5 164.5 L600.9 206.7 L601.4 163.0 L602.0 220.7 L602.7 221.0 L603.2 176.0 L603.7 182.1 L604.3 220.6 L604.8 189.6 L605.4 221.0 L605.9 214.6 L606.5 214.0 L606.9 180.0 L607.5 212.4 L608.1 219.1 L608.6 220.9 L609.2 219.5 L609.7 173.0 L610.4 178.0 L610.9 220.3 L611.5 210.4 L612.0 220.9 L612.5 178.4 L613.1 158.0 L613.6 196.4 L614.2 214.1 L614.7 166.0 L615.2 215.4 L615.8 201.1 L616.3 183.0 L617.0 188.7 L617.5 221.0 L618.0 200.1 L618.6 220.8 L619.0 151.5 L619.7 218.7 L620.1 218.0 L620.8 215.7 L621.3 163.0 L621.9 220.1 L622.4 201.7 L623.0 153.0 L623.5 220.6 L624.1 212.1 L624.7 167.5 L625.1 221.0 L625.7 174.7 L626.3 208.7 L626.9 212.3 L627.3 220.7 L627.9 166.0 L628.4 220.6 L629.0 214.3 L629.6 135.0 L630.0 189.3 L630.7 130.0 L631.1 55.4 L631.8 220.7 L632.3 208.0 L632.8 221.0 L633.4 190.3 L634.0 87.4 L634.5 220.2 L635.0 110.0 L635.6 184.7 L636.2 140.0 L636.8 191.4 L637.2 192.0 L637.8 140.0 L638.4 146.5 L638.9 147.8 L639.4 209.4 L640.0 125.3 L640.5 220.9 L641.0 146.6 L641.7 214.7 L642.2 177.2 L642.7 220.9 L643.3 121.3 L643.9 210.5 L644.4 163.0 L645.0 220.9 L645.5 216.5 L646.1 173.0 L646.7 174.5 L647.2 213.8 L647.7 220.3 L648.2 220.8 L648.8 194.0 L649.3 170.0 L649.9 214.8 L650.4 218.7 L651.0 204.8 L651.6 219.9 L652.1 189.6 L652.6 220.1 L653.3 200.6 L653.7 216.0 L654.4 173.0 L654.9 219.7 L655.4 200.1 L656.0 148.0 L656.4 164.1 L657.0 219.1 L657.7 160.0 L658.2 219.5 L658.7 178.7 L659.3 219.7 L659.8 183.3 L660.4 98.6 L660.9 220.0 L661.4 220.5 L662.0 190.0 L662.5 220.6 L663.1 137.0 L663.7 220.7 L664.2 211.9 L664.7 153.0 L665.3 218.8 L665.9 221.0 L666.5 143.0 L667.0 140.0 L667.5 163.8 L668.0 218.7 L668.7 163.0 L669.1 220.6 L669.7 215.7 L670.2 220.8 L670.9 173.3 L671.3 163.0 L671.9 195.4 L672.4 220.0 L673.0 141.6 L673.6 141.0 L674.2 217.4 L674.6 140.0 L675.2 150.0" stroke="#ff0000" stroke-width="2.0"/>
</g>
<rect x="178.9" y="7.0" width="129.5" height="24.1" fill="#fff" stroke="none"/>
<path d="M178.9 31.1 V7.0 H308.4" fill="none" stroke="#a0a0a0" stroke-width="1.7"/>
<path d="M178.9 31.1 H308.4 V7.0" fill="none" stroke="#707070" stroke-width="1.5"/>
<line x1="184" y1="14" x2="210" y2="14" stroke="#0000ff" stroke-width="2"/>
<line x1="184" y1="24.5" x2="210" y2="24.5" stroke="#ff0000" stroke-width="2" stroke-dasharray="5.3 4.7"/>
<text x="213" y="17.1" class="lg">Stochastic Simulations</text>
<text x="213" y="27.3" class="lg">FFNN Simulations</text>
<text x="64.5" y="274.2" textLength="199.5" lengthAdjust="spacingAndGlyphs" class="cap">(a) Susceptible Population</text>
<text x="457" y="274.2" textLength="139.5" lengthAdjust="spacingAndGlyphs" class="cap">(b) Absolute Error</text>
</svg>
</body></html>
